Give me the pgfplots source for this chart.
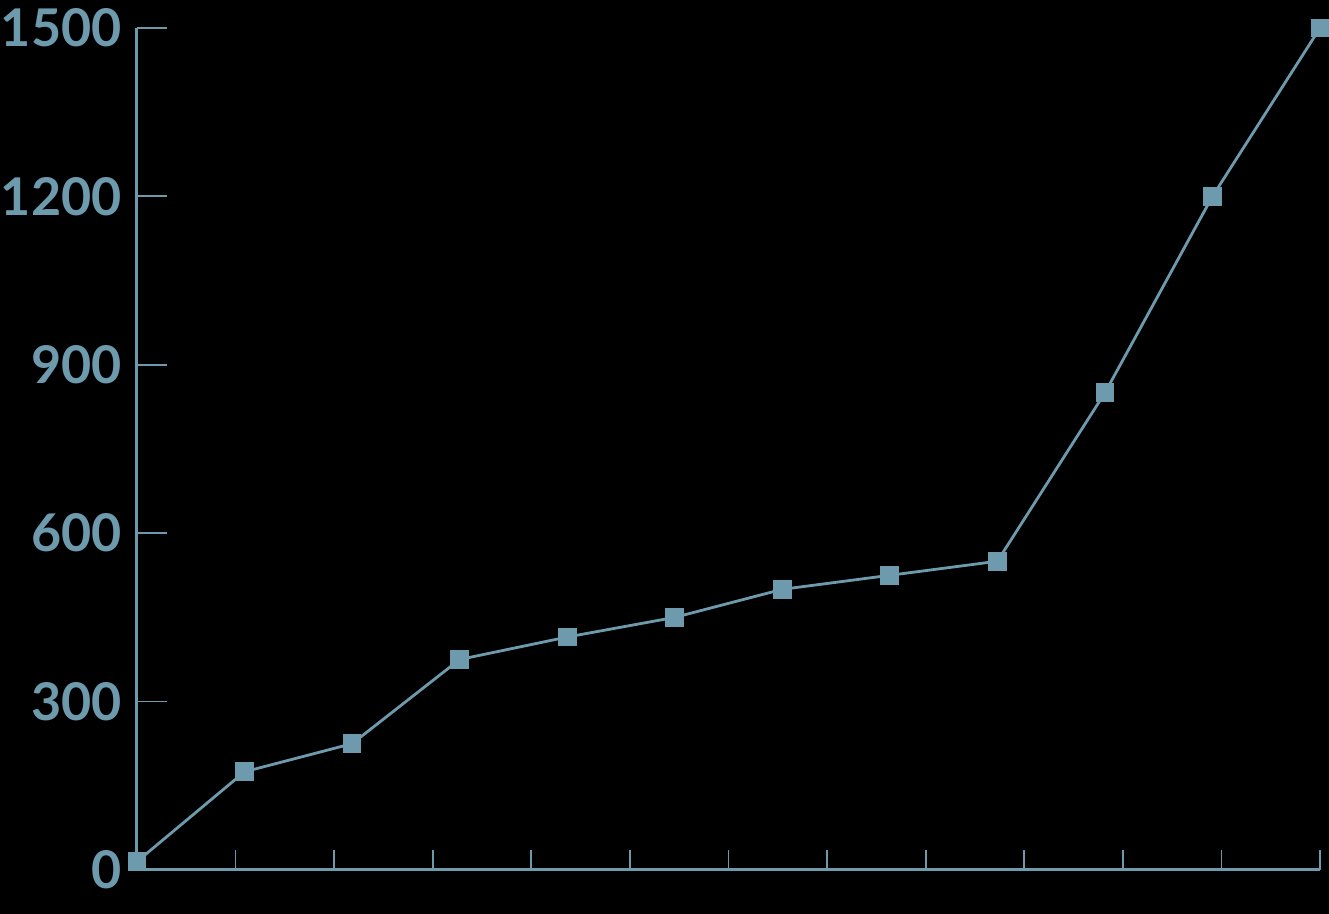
\documentclass[border=0pt]{standalone}
\usepackage{fontspec}
\setmainfont{Lato}
\usepackage{pgfplots}
\pgfplotsset{compat=1.18}
\definecolor{steel}{HTML}{6E9AAD}

\begin{document}
\begin{tikzpicture}
\fill[black] (0,0) rectangle (664.5pt,457pt);
\useasboundingbox (0,0) rectangle (664.5pt,457pt);
\begin{axis}[
at={(68.5pt,22pt)},anchor=south west,
scale only axis,width=591.5pt,height=421pt,
xmin=0,xmax=12,ymin=0,ymax=1500,
axis x line*=bottom,axis y line*=left,
axis line style={steel,line width=1.5pt,-},
every tick/.style={steel,line width=0.9pt},
xtick=\empty,
ytick={0,300,600,900,1200,1500},
major tick length=15pt,
tick align=inside,
yticklabel style={steel,font=\fontsize{26}{28}\selectfont\bfseries,anchor=east,xshift=-6.5pt,inner xsep=1pt},
/pgf/number format/1000 sep={},
/pgf/number format/assume math mode=true,
clip=false
]
\pgfplotsinvokeforeach{1,...,12}{
  \draw[steel,line width=0.9pt] (axis cs:#1,0) -- ++(0,10pt);
}
\addplot[steel,line width=1.4pt,mark=square*,mark size=4pt,mark options={fill=steel,draw=steel}] coordinates {
(0,15) (1.0909,175) (2.1818,225) (3.2727,375) (4.3636,415) (5.4545,450) (6.5455,500) (7.6364,525) (8.7273,550) (9.8182,850) (10.9091,1200) (12,1500)};
\end{axis}
\end{tikzpicture}
\end{document}
